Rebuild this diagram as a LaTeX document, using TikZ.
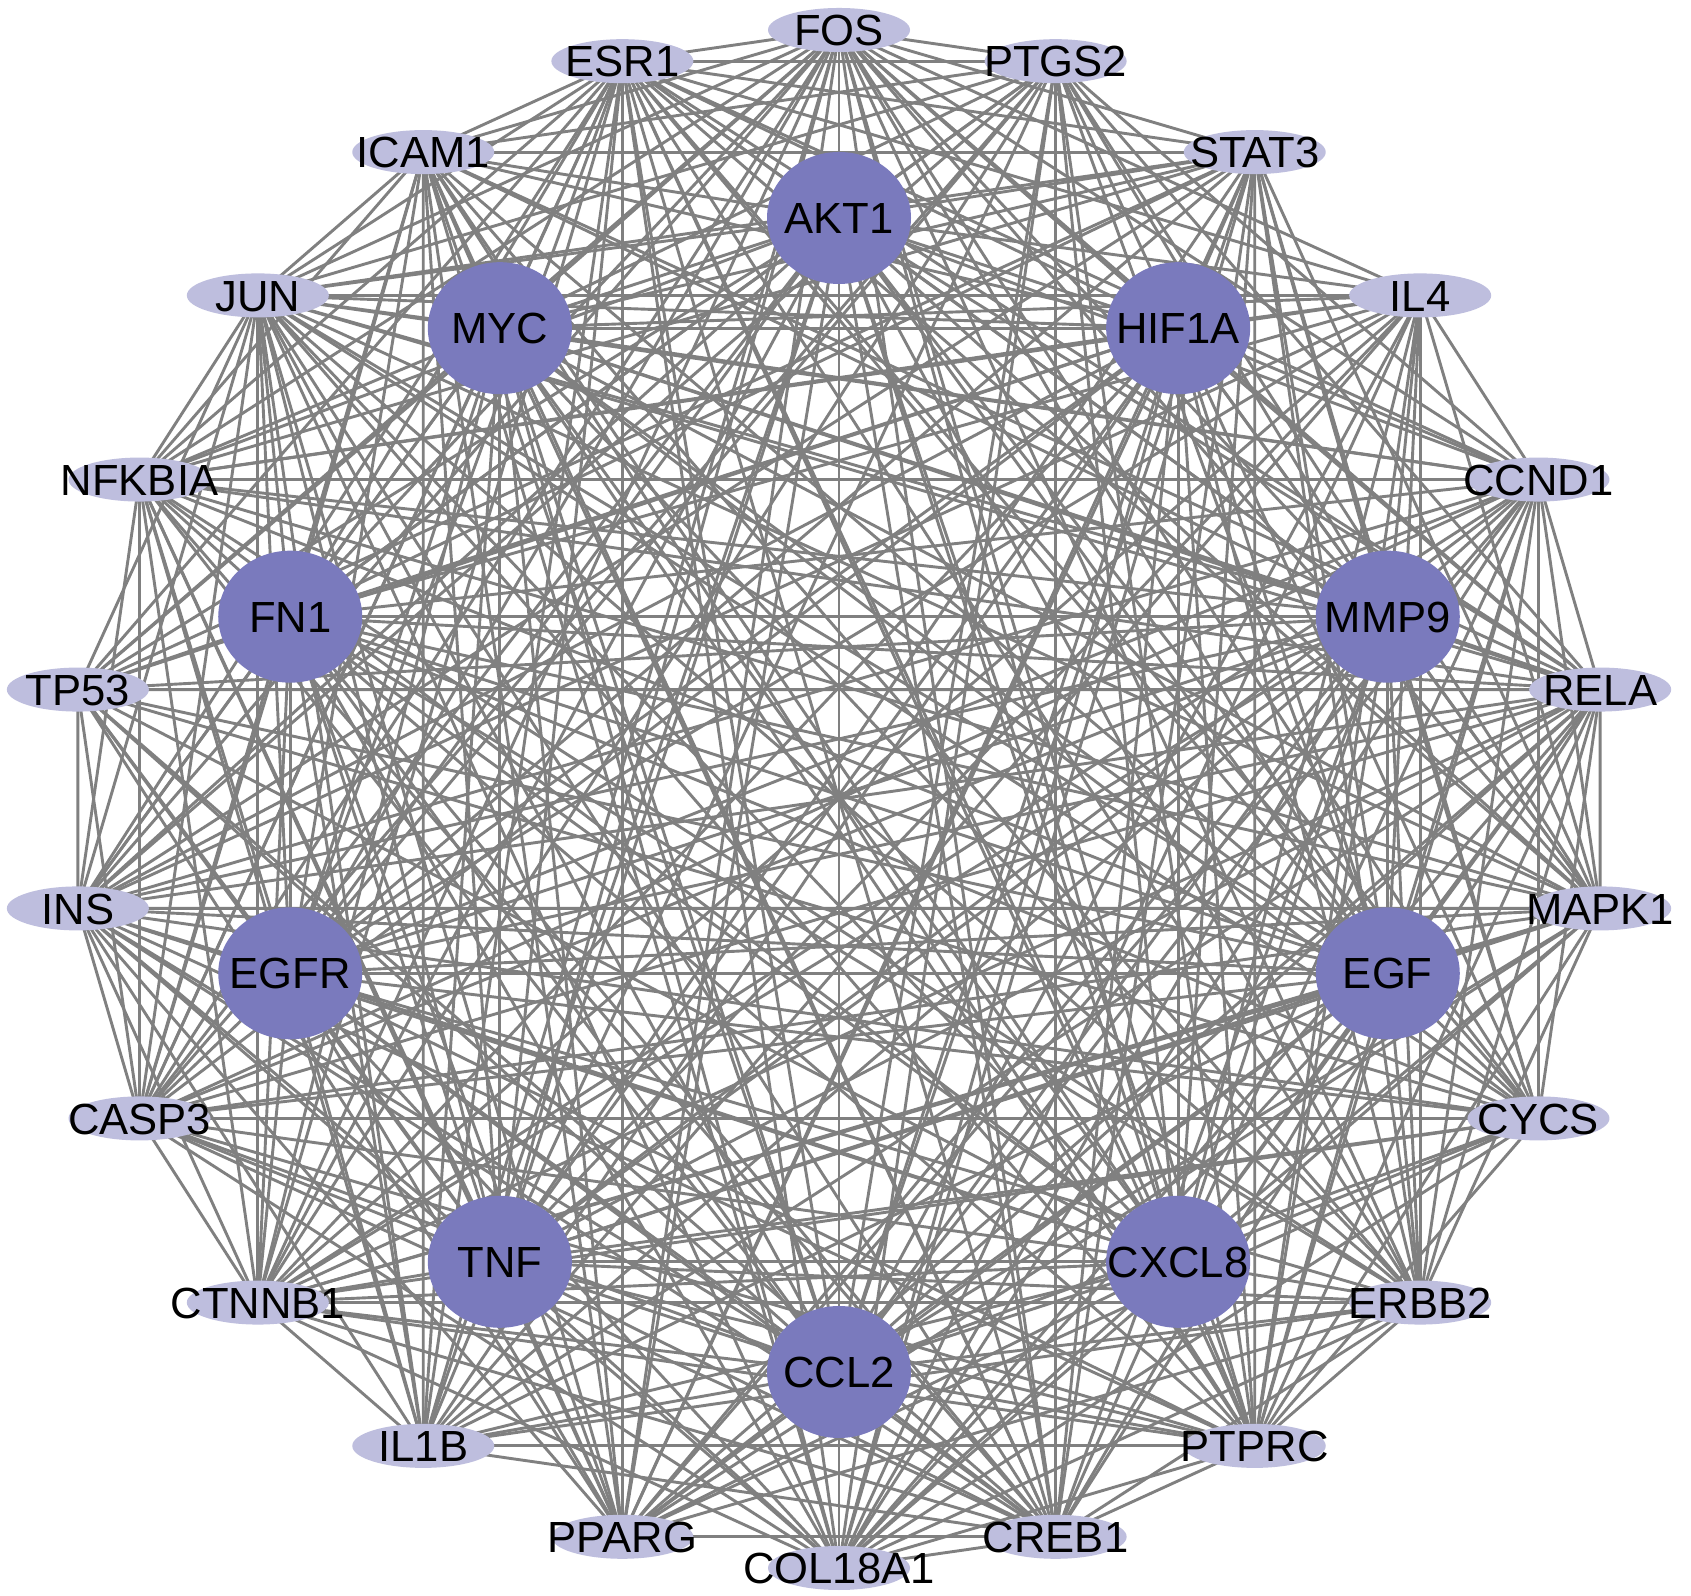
\documentclass[tikz,border=0pt]{standalone}
\usepackage{fontspec}
\setmainfont{Liberation Sans}
\usetikzlibrary{shapes.geometric,backgrounds,calc}
\definecolor{hubfill}{RGB}{122,122,189}
\definecolor{rimfill}{RGB}{190,190,222}
\definecolor{edgegray}{RGB}{128,128,128}
\tikzset{
  gene/.style={ellipse,draw=none,inner sep=0pt,outer sep=0pt,
    font=\fontsize{21.8pt}{25pt}\selectfont,text=black},
  hub/.style={gene,fill=hubfill,minimum width=72pt,minimum height=66pt},
  rim/.style={gene,fill=rimfill,minimum width=71pt,minimum height=22pt},
  link/.style={draw=edgegray,line width=1.45pt}
}
\newcommand{\genelab}[1]{\makebox[0pt]{\raisebox{-0.358em}[0pt][0pt]{#1}}}
\begin{document}
\begin{tikzpicture}[x=0.5pt,y=0.5pt]
\useasboundingbox (0,0) rectangle (1691,1595);
% outer ring
\foreach \lab [count=\k from 0] in {FOS,PTGS2,STAT3,IL4,CCND1,RELA,MAPK1,CYCS,ERBB2,PTPRC,CREB1,COL18A1,PPARG,IL1B,CTNNB1,CASP3,INS,TP53,NFKBIA,JUN,ICAM1,ESR1}{
  \pgfmathsetmacro\ang{90-\k*360/22}
  \node[rim] (o\k) at ($(839,796)+(\ang:769)$) {\genelab{\lab}};
}
% inner ring
\foreach \lab [count=\k from 0] in {AKT1,HIF1A,MMP9,EGF,CXCL8,CCL2,TNF,EGFR,FN1,MYC}{
  \pgfmathsetmacro\ang{90-\k*36}
  \node[hub] (h\k) at ($(839,800)+(\ang:577)$) {\genelab{\lab}};
}
\begin{pgfonlayer}{background}
\fill[white] (0,0) rectangle (1691,1595);
% hub-hub
\foreach \i in {0,...,8}{
  \pgfmathtruncatemacro\jst{\i+1}
  \foreach \j in {\jst,...,9}{
    \draw[link] (h\i.center) -- (h\j.center);
  }
}
% hub-rim
\foreach \i in {0,...,9}{
  \foreach \j in {0,...,21}{
    \draw[link] (h\i.center) -- (o\j.center);
  }
}
% rim-rim
\foreach \i in {0,...,20}{
  \pgfmathtruncatemacro\jst{\i+1}
  \foreach \j in {\jst,...,21}{
    \pgfmathtruncatemacro\keep{or(mod(\i*\i*3+\j*\j*5+\i*\j*7,10)<7, mod(\i+\j,11)==0)}
    \ifnum\keep=1 \draw[link] (o\i.center) -- (o\j.center);\fi
  }
}
\end{pgfonlayer}
\end{tikzpicture}
\end{document}
